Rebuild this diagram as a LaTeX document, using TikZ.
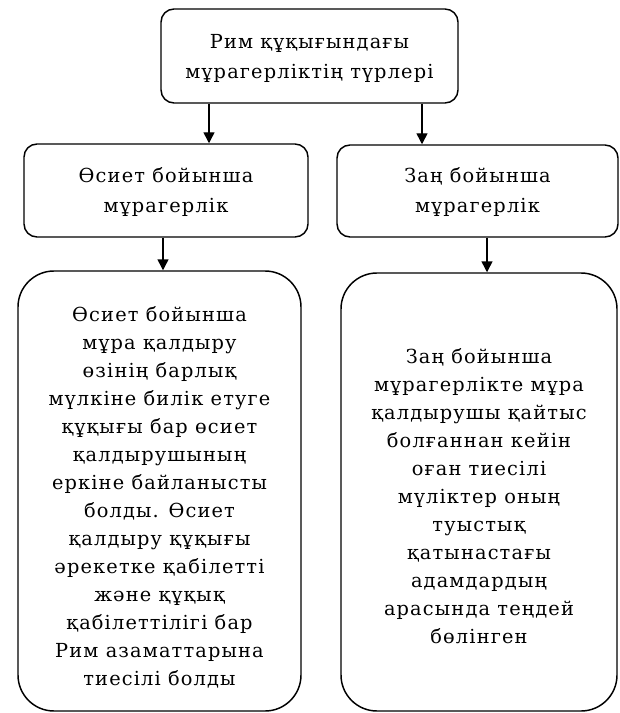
\documentclass[tikz,border=0pt]{standalone}
\usepackage{fontspec}
\setmainfont[LetterSpace=6]{DejaVu Serif}
\usetikzlibrary{arrows.meta}
\newcommand\pxl[1]{#1*0.75pt}
\begin{document}
\begin{tikzpicture}[x=0.75pt,y=-0.75pt,
  boxshape/.style={draw=black,line width=1.1pt,rounded corners=\pxl{13},inner sep=0pt},
  bigshape/.style={draw=black,line width=1.1pt,rounded corners=\pxl{36},inner sep=0pt},
  headtxt/.style={align=center,font=\fontsize{14.5}{22.5}\selectfont},
  bodytxt/.style={align=center,font=\fontsize{14.5}{21}\selectfont},
  arr/.style={line width=1.1pt,-{Triangle[length=\pxl{11},width=\pxl{11}]}}]
\useasboundingbox (0,0) rectangle (620,713);
% boxes
\node[boxshape,minimum width=\pxl{297},minimum height=\pxl{94}] (top) at (309.5,56) {};
\node[boxshape,minimum width=\pxl{284},minimum height=\pxl{93}] (ml) at (166,190.5) {};
\node[boxshape,minimum width=\pxl{281},minimum height=\pxl{92}] (mr) at (477.5,191) {};
\node[bigshape,minimum width=\pxl{283},minimum height=\pxl{440}] (bl) at (159.5,491) {};
\node[bigshape,minimum width=\pxl{276},minimum height=\pxl{438}] (br) at (479,492) {};
% texts
\node[headtxt] (toptxt) at (309.5,58) {Рим құқығындағы\\мұрагерліктің түрлері};
\node[headtxt] (mltxt) at (166,192.5) {Өсиет бойынша\\мұрагерлік};
\node[headtxt] (mrtxt) at (477.5,192.5) {Заң бойынша\\мұрагерлік};
\node[bodytxt] (bltxt) at (159.5,497.5) {Өсиет бойынша\\мұра қалдыру\\өзінің барлық\\мүлкіне билік етуге\\құқығы бар өсиет\\қалдырушының\\еркіне байланысты\\болды. Өсиет\\қалдыру құқығы\\әрекетке қабілетті\\және құқық\\қабілеттілігі бар\\Рим азаматтарына\\тиесілі болды};
\node[bodytxt] (brtxt) at (479,496) {Заң бойынша\\мұрагерлікте мұра\\қалдырушы қайтыс\\болғаннан кейін\\оған тиесілі\\мүліктер оның\\туыстық\\қатынастағы\\адамдардың\\арасында теңдей\\бөлінген};
% arrow columns
\coordinate (c1) at (209,0);
\coordinate (c2) at (422,0);
\coordinate (c3) at (163,0);
\coordinate (c4) at (487,0);
\draw[arr] (top.south -| c1) -- (ml.north -| c1);
\draw[arr] (top.south -| c2) -- (mr.north -| c2);
\draw[arr] (ml.south -| c3) -- (bl.north -| c3);
\draw[arr] (mr.south -| c4) -- (br.north -| c4);
\end{tikzpicture}
\end{document}
